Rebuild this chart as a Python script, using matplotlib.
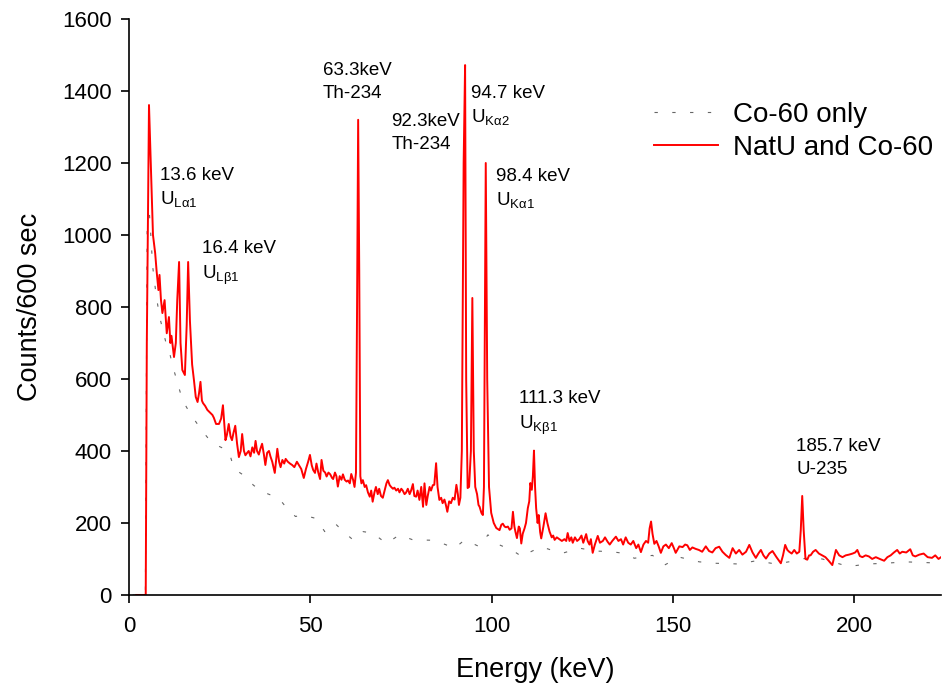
import numpy as np
import matplotlib
matplotlib.use("Agg")
import matplotlib.pyplot as plt

plt.rcParams['font.family'] = ['Liberation Sans', 'DejaVu Sans']
plt.rcParams['mathtext.fontset'] = 'custom'
plt.rcParams['mathtext.rm'] = 'Liberation Sans'

# NatU and Co-60 spectrum (energy keV, counts)
natu_e = [2.0, 4.6, 4.9, 5.5, 6.2, 6.6, 7.2, 7.6, 8.1, 8.4, 8.8, 9.2, 9.8, 10.4, 11.0, 11.4, 11.7, 12.4, 12.9,
          13.3, 13.8, 14.2, 14.7, 15.4, 15.9, 16.3, 16.8, 17.4, 17.9, 18.4, 18.9, 19.3, 19.7, 20.1, 20.4, 21.0,
          21.6, 22.0, 22.5, 23.0, 23.4, 24.0, 24.8, 25.4, 25.9, 26.6, 27.0, 27.5, 28.0, 28.4, 28.8, 29.3, 29.8,
          30.3, 30.8, 31.2, 31.7, 32.1, 32.6, 33.0, 33.5, 34.0, 34.5, 34.9, 35.3, 35.8, 36.2, 36.7, 37.2, 37.6,
          38.1, 38.6, 39.0, 39.5, 40.2, 40.9, 41.4, 41.8, 42.3, 42.8, 43.2, 43.8, 44.4, 45.0, 45.6, 46.3, 46.9,
          47.5, 48.2, 48.8, 49.4, 49.9, 50.4, 50.8, 51.3, 51.7, 52.2, 52.7, 53.1, 53.6, 54.1, 54.5, 55.0, 55.5,
          56.0, 56.3, 56.8, 57.2, 57.6, 58.1, 58.6, 59.0, 59.5, 60.0, 60.4, 60.9, 61.3, 61.8, 62.2, 62.6, 62.9,
          63.2, 63.5, 63.8, 64.1, 64.5, 65.0, 65.4, 65.9, 66.4, 66.8, 67.2, 67.7, 68.1, 68.6, 69.0, 69.5, 70.0,
          70.5, 71.0, 71.4, 71.9, 72.3, 72.8, 73.2, 73.7, 74.2, 74.6, 75.1, 75.5, 76.0, 76.4, 76.9, 77.4, 77.8,
          78.3, 78.7, 79.2, 79.6, 80.1, 80.6, 81.1, 81.5, 82.0, 82.4, 82.9, 83.3, 83.8, 84.2, 84.7, 85.1, 85.6,
          86.1, 86.5, 87.0, 87.4, 87.8, 88.3, 88.8, 89.3, 89.8, 90.3, 90.7, 91.0, 91.4, 91.8, 92.3, 92.7, 93.0,
          93.4, 93.8, 94.3, 94.7, 95.1, 95.5, 96.0, 96.4, 96.7, 97.2, 97.6, 97.9, 98.4, 98.8, 99.3, 99.9, 100.6,
          101.3, 102.2, 102.7, 103.1, 103.6, 104.0, 104.5, 105.0, 105.5, 105.9, 106.3, 106.6, 107.0, 107.5,
          107.8, 108.2, 108.6, 109.1, 109.5, 110.0, 110.4, 110.7, 111.1, 111.4, 111.7, 112.0, 112.3, 112.7,
          113.0, 113.4, 113.7, 114.3, 114.9, 115.4, 116.0, 116.6, 117.0, 117.4, 118.0, 118.7, 119.4, 120.1,
          120.6, 121.0, 121.5, 122.0, 122.4, 123.0, 123.6, 124.2, 124.8, 125.3, 126.1, 126.5, 127.0, 127.4,
          127.9, 128.5, 129.3, 129.9, 130.7, 131.3, 132.0, 132.6, 133.3, 134.3, 135.0, 135.7, 136.3, 137.0,
          137.7, 138.4, 139.1, 139.9, 140.5, 141.2, 141.9, 142.6, 143.2, 143.6, 144.0, 144.4, 144.9, 145.5,
          146.1, 146.7, 147.4, 148.1, 148.9, 149.7, 150.3, 150.8, 151.8, 152.7, 153.4, 154.0, 154.7, 155.4,
          156.3, 157.2, 158.1, 159.1, 160.0, 160.9, 161.8, 162.8, 163.7, 164.6, 165.6, 166.5, 167.4, 168.3,
          169.2, 170.2, 171.1, 172.0, 172.9, 173.6, 174.3, 175.0, 175.7, 176.6, 177.5, 178.6, 179.8, 180.4,
          181.0, 181.6, 182.1, 182.8, 183.5, 184.2, 184.9, 185.3, 185.7, 186.1, 186.6, 187.1, 187.6, 188.0,
          188.7, 189.4, 190.3, 191.2, 192.1, 193.0, 194.0, 195.0, 195.9, 196.8, 197.7, 198.6, 199.6, 200.3,
          200.9, 201.6, 202.3, 203.2, 204.1, 205.0, 206.0, 207.1, 208.3, 209.2, 210.1, 211.0, 211.9, 212.6,
          213.3, 214.4, 215.5, 216.2, 216.9, 218.0, 219.2, 220.3, 221.5, 222.4, 223.3, 224.0]
natu_c = [0, 0, 700, 1361, 1125, 1000, 950, 900, 847, 889, 820, 783, 819, 727, 772, 700, 720, 661, 700,
          820, 925, 700, 625, 611, 750, 925, 760, 640, 597, 550, 536, 560, 592, 540, 533, 525,
          514, 510, 505, 500, 492, 475, 475, 490, 527, 430, 445, 475, 440, 430, 450, 470, 420,
          383, 400, 447, 400, 388, 395, 400, 385, 410, 395, 428, 400, 390, 405, 420, 390, 361,
          395, 400, 385, 370, 339, 406, 370, 355, 375, 365, 378, 370, 365, 361, 355, 370, 360,
          350, 325, 350, 370, 389, 360, 347, 339, 365, 340, 322, 375, 345, 340, 329, 340, 335,
          325, 322, 340, 330, 301, 330, 320, 335, 320, 315, 318, 310, 336, 320, 300, 340, 800,
          1320, 900, 330, 310, 319, 300, 305, 285, 273, 290, 259, 285, 300, 280, 295, 275, 270,
          290, 310, 319, 305, 300, 295, 298, 290, 295, 285, 295, 290, 280, 284, 295, 280, 290,
          308, 275, 273, 290, 264, 300, 245, 310, 250, 275, 300, 290, 305, 306, 366, 300, 264,
          270, 255, 265, 250, 231, 260, 255, 270, 265, 306, 280, 250, 270, 400, 1200, 1472, 600,
          297, 300, 400, 825, 400, 300, 280, 250, 245, 228, 222, 300, 1200, 600, 300, 228, 200,
          186, 180, 195, 198, 190, 188, 190, 181, 185, 231, 190, 175, 158, 190,
          185, 143, 170, 185, 200, 241, 260, 311, 292, 330, 401, 300, 241, 200,
          222, 175, 157, 190, 227, 200, 176, 160, 165, 153, 160, 155, 150, 155,
          150, 172, 150, 160, 145, 160, 150, 155, 165, 145, 169, 150, 140, 155,
          117, 140, 164, 145, 150, 160, 148, 140, 150, 162, 150, 155, 140, 160,
          145, 140, 150, 130, 140, 119, 140, 150, 145, 185, 204, 170, 142, 150,
          135, 117, 135, 140, 130, 144, 130, 117, 135, 133, 140, 138, 125, 132,
          128, 125, 120, 135, 122, 118, 130, 134, 120, 111, 103, 130, 115, 125,
          112, 120, 139, 118, 103, 115, 125, 110, 101, 115, 122, 105, 88, 110,
          139, 125, 120, 115, 125, 115, 120, 180, 275, 180, 100, 98, 110, 110,
          120, 125, 115, 110, 105, 95, 83, 125, 110, 105, 110, 112, 115, 118,
          125, 108, 105, 110, 107, 100, 105, 100, 95, 105, 110, 118, 125, 115,
          120, 118, 127, 110, 107, 112, 115, 105, 103, 110, 100, 105]

# Co-60 only spectrum
co_e = [1.0, 4.5, 5.0, 5.5, 6.0, 6.5, 7.5, 8.5, 9.2, 10.2, 11.2, 12.2, 13.3, 14.2, 15.2, 16.8, 18.7, 20.8,
        22.9, 25.0, 27.5, 29.0, 30.5, 32.0, 34.3, 36.7, 39.0, 41.3, 43.6, 45.9, 48.0, 51.4, 54.0, 56.8,
        59.1, 61.8, 64.5, 67.2, 71.0, 74.6, 78.3, 83.8, 86.5, 89.8, 92.6, 96.7, 99.0, 102.2, 105.9, 108.6,
        110.4, 113.7, 116.4, 119.6, 124.2, 128.8, 133.3, 136.1, 139.4, 144.4, 147.7, 151.8, 157.3, 161.9,
        168.3, 173.0, 178.4, 182.0, 186.7, 191.2, 198.5, 203.7, 208.7, 214.0, 219.7, 224.0]
co_c = [0, 0, 1040, 1078, 1000, 914, 830, 770, 741, 700, 672, 630, 592, 560, 533, 505, 477, 448,
        422, 412, 400, 350, 340, 330, 305, 287, 278, 269, 240, 218, 222, 213, 176, 199,
        176, 153, 176, 172, 143, 167, 153, 152, 143, 130, 153, 134, 167, 139, 123, 105,
        118, 134, 125, 116, 130, 122, 120, 116, 102, 110, 83, 105, 92, 88,
        86, 95, 86, 92, 102, 100, 79, 86, 88, 92, 90, 88]

# peak annotations: (x, y, first line, second line)
labels = [
    (8.5, 1189, "13.6 keV", r"U$_{\mathrm{Lα1}}$"),
    (20.1, 986, "16.4 keV", r"U$_{\mathrm{Lβ1}}$"),
    (53.4, 1480, "63.3keV", "Th-234"),
    (72.3, 1339, "92.3keV", "Th-234"),
    (94.2, 1417, "94.7 keV", r"U$_{\mathrm{Kα2}}$"),
    (101.1, 1186, "98.4 keV", r"U$_{\mathrm{Kα1}}$"),
    (107.7, 569, "111.3 keV", r"U$_{\mathrm{Kβ1}}$"),
    (184.0, 436, "185.7 keV", "U-235"),
]

fig = plt.figure(figsize=(9.42, 6.91), dpi=100)
ax = fig.add_axes([0.137, 0.139, 0.862, 0.8335])

ax.plot(co_e, co_c, color='#666666', lw=0.8, dashes=(3, 13), label='Co-60 only')
ax.plot(natu_e, natu_c, color='red', lw=1.4, label='NatU and Co-60')

for x, y, l1, l2 in labels:
    ax.text(x, y, l1, fontsize=13.5, va='top', ha='left')
    ax.text(x, y - 64, l2, fontsize=13.5, va='top', ha='left')

ax.set_xlim(0, 224)
ax.set_ylim(0, 1600)
ax.set_xticks([0, 50, 100, 150, 200])
ax.set_yticks(np.arange(0, 1601, 200))
ax.tick_params(direction='out', length=5.5, width=1.2, labelsize=16)
ax.tick_params(axis='x', pad=10)
ax.tick_params(axis='y', pad=7)
for s in ['top', 'right']:
    ax.spines[s].set_visible(False)
for s in ['left', 'bottom']:
    ax.spines[s].set_linewidth(1.2)

ax.set_xlabel('Energy (keV)', fontsize=19.5, labelpad=14)
ax.set_ylabel('Counts/600 sec', fontsize=19.5, labelpad=14)

ax.legend(loc='upper left', bbox_to_anchor=(0.694, 0.853), bbox_transform=fig.transFigure,
          frameon=False, fontsize=20, handlelength=2.3, handletextpad=0.55, labelspacing=0.27,
          borderpad=0, borderaxespad=0)

fig.savefig('out.png', dpi=100)
